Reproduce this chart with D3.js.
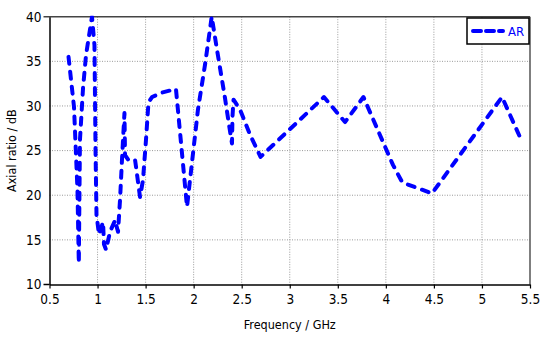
<!DOCTYPE html>
<html>
<head>
<meta charset="utf-8">
<script src="https://cdn.jsdelivr.net/npm/d3@7"></script>
<style>
  body { margin: 0; background: #fff; }
  svg { display: block; font-family: "DejaVu Sans Condensed", "DejaVu Sans", sans-serif; }
  .grid line { stroke: #999; stroke-dasharray: 1,1.5; }
</style>
</head>
<body>
<svg id="chart" width="550" height="338"></svg>
<script>
/* DATA */
const freq = [0.698, 0.755, 0.791, 0.805, 0.817, 0.849, 0.880, 0.942, 0.968, 0.979,
  0.989, 1.015, 1.057, 1.067, 1.088, 1.130, 1.182, 1.213, 1.234, 1.254,
  1.265, 1.280, 1.286, 1.317, 1.390, 1.442, 1.473, 1.504, 1.530, 1.567,
  1.671, 1.816, 1.931, 1.962, 2.045, 2.118, 2.188, 2.243, 2.326, 2.368,
  2.399, 2.404, 2.415, 2.482, 2.586, 2.696, 3.356, 3.575, 3.767, 4.074,
  4.168, 4.230, 4.480, 5.209, 5.396];
const ar = [35.5, 29.9, 20.6, 12.4, 26.2, 32.0, 35.7, 40.0, 36.8, 25.1,
  17.8, 15.6, 17.0, 14.5, 13.9, 15.9, 17.2, 15.9, 19.5, 23.9,
  26.2, 29.2, 24.5, 24.0, 24.0, 19.8, 21.7, 26.2, 30.4, 31.0,
  31.5, 31.9, 18.7, 21.7, 29.6, 34.6, 40.0, 36.3, 30.9, 27.9,
  25.8, 28.8, 30.7, 29.6, 26.8, 24.3, 31.0, 28.2, 31.0, 23.4,
  21.5, 21.2, 20.2, 31.0, 26.5];
const xTicks = [0.5, 1, 1.5, 2, 2.5, 3, 3.5, 4, 4.5, 5, 5.5];
const yTicks = [10, 15, 20, 25, 30, 35, 40];
const seriesName = "AR";

const svg = d3.select("#chart");
const L = 49.5, R = 530, T = 16.7, B = 284.5;

const x = d3.scaleLinear().domain([0.5, 5.5]).range([L, R]);
const y = d3.scaleLinear().domain([10, 40]).range([B, T]);

/* grid */
const grid = svg.append("g").attr("class", "grid");
grid.selectAll(".vx").data(xTicks.slice(1, -1)).enter().append("line")
  .attr("x1", d => x(d)).attr("x2", d => x(d)).attr("y1", T).attr("y2", B);
grid.selectAll(".hy").data(yTicks.slice(1, -1)).enter().append("line")
  .attr("x1", L).attr("x2", R).attr("y1", d => y(d)).attr("y2", d => y(d));

/* frame */
svg.append("line").attr("x1", L - 6).attr("x2", R).attr("y1", T).attr("y2", T)
  .attr("stroke", "#444").attr("stroke-width", 1.5);
svg.append("line").attr("x1", R).attr("x2", R).attr("y1", T).attr("y2", B)
  .attr("stroke", "#555").attr("stroke-width", 1.5);

/* axes */
const fmt = d => String(d);
const xAxis = svg.append("g").attr("transform", `translate(0,${B})`)
  .call(d3.axisBottom(x).tickValues(xTicks).tickFormat(fmt).tickSize(4).tickSizeOuter(0).tickPadding(6));
const yAxis = svg.append("g").attr("transform", `translate(${L},0)`)
  .call(d3.axisLeft(y).tickValues(yTicks).tickFormat(fmt).tickSize(0).tickPadding(8));
[xAxis, yAxis].forEach(a => {
  a.selectAll("text").attr("font-size", 13.5).attr("font-family", "DejaVu Sans Condensed, DejaVu Sans, sans-serif").attr("fill", "#000");
  a.select(".domain").attr("stroke", "#000").attr("stroke-width", 1.5);
  a.selectAll(".tick line").attr("stroke", "#000").attr("stroke-width", 1.2);
});
svg.append("line").attr("x1", L - 6).attr("x2", L).attr("y1", B).attr("y2", B)
  .attr("stroke", "#000").attr("stroke-width", 1.5);

/* titles */
svg.append("text").attr("x", (L + R) / 2).attr("y", 329).attr("text-anchor", "middle")
  .attr("font-size", 12.5).text("Frequency / GHz");
svg.append("text").attr("transform", `translate(16,${(T + B) / 2}) rotate(-90)`)
  .attr("text-anchor", "middle").attr("font-size", 12.5).text("Axial ratio / dB");

/* curve */
svg.append("clipPath").attr("id", "clip").append("rect")
  .attr("x", L).attr("y", T - 1).attr("width", R - L).attr("height", B - T + 1);

const pts = freq.map((f, i) => [f, ar[i]]);
const line = d3.line().x(d => x(d[0])).y(d => y(d[1]));
svg.append("path").datum(pts).attr("clip-path", "url(#clip)")
  .attr("d", line).attr("fill", "none").attr("stroke", "#0000ff")
  .attr("stroke-width", 4).attr("stroke-linecap", "round").attr("stroke-linejoin", "round")
  .attr("stroke-dasharray", "7,8");

/* legend */
const lg = svg.append("g");
lg.append("rect").attr("x", 467).attr("y", 18).attr("width", 62).attr("height", 26)
  .attr("fill", "#fff").attr("stroke", "#000").attr("stroke-width", 1.5);
lg.append("line").attr("x1", 473).attr("x2", 503).attr("y1", 31).attr("y2", 31)
  .attr("stroke", "#0000ff").attr("stroke-width", 4).attr("stroke-linecap", "round")
  .attr("stroke-dasharray", "8,5");
lg.append("text").attr("x", 508).attr("y", 36).attr("font-size", 13)
  .attr("fill", "#0000ff").text(seriesName);
</script>
</body>
</html>
